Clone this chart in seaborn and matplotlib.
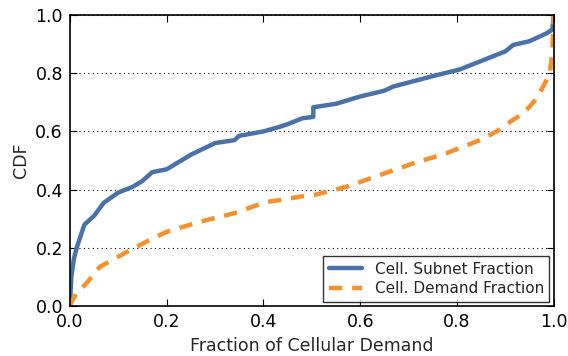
import matplotlib
matplotlib.use("Agg")
import matplotlib.pyplot as plt
import seaborn as sns
import pandas as pd

subnet_x = [0.0, 0.003, 0.008, 0.014, 0.03, 0.05, 0.07, 0.1, 0.13, 0.15, 0.17, 0.2, 0.25, 0.3, 0.34, 0.35, 0.4, 0.434, 0.45, 0.48, 0.503, 0.503, 0.55, 0.6, 0.65, 0.668, 0.75, 0.806, 0.847, 0.9, 0.916, 0.95, 0.985, 0.997, 1.0]
subnet_y = [0.0, 0.1, 0.16, 0.2, 0.28, 0.31, 0.355, 0.39, 0.41, 0.43, 0.46, 0.47, 0.52, 0.56, 0.57, 0.585, 0.6, 0.616, 0.625, 0.645, 0.65, 0.683, 0.695, 0.72, 0.74, 0.754, 0.79, 0.813, 0.84, 0.875, 0.897, 0.91, 0.937, 0.95, 1.0]
demand_x = [0.0, 0.005, 0.014, 0.034, 0.062, 0.1, 0.131, 0.172, 0.2, 0.269, 0.337, 0.406, 0.434, 0.475, 0.503, 0.572, 0.64, 0.709, 0.778, 0.847, 0.882, 0.916, 0.935, 0.95, 0.965, 0.978, 0.992, 0.997, 1.0]
demand_y = [0.0, 0.02, 0.044, 0.078, 0.135, 0.17, 0.198, 0.233, 0.255, 0.29, 0.318, 0.358, 0.364, 0.376, 0.381, 0.41, 0.45, 0.49, 0.525, 0.57, 0.6, 0.64, 0.66, 0.685, 0.715, 0.754, 0.8, 0.88, 1.0]

labels = ["Cell. Subnet Fraction", "Cell. Demand Fraction"]

sns.set_style("ticks")
plt.rcParams['font.family'] = ['DejaVu Sans']

fig, ax = plt.subplots(figsize=(5.68, 3.56), dpi=100)
fig.subplots_adjust(left=0.123, right=0.975, top=0.958, bottom=0.14)

df1 = pd.DataFrame({"x": subnet_x, "y": subnet_y})
df2 = pd.DataFrame({"x": demand_x, "y": demand_y})
sns.lineplot(data=df1, x="x", y="y", sort=False, estimator=None, ax=ax,
             color="#4a72a8", lw=3.2, label=labels[0])
sns.lineplot(data=df2, x="x", y="y", sort=False, estimator=None, ax=ax,
             color="#f5902f", lw=3.2, dashes=False, label=labels[1])
ax.lines[1].set_dashes([3, 2.2])

ax.set_xlim(0, 1)
ax.set_ylim(0, 1)
ax.set_xticks([0, 0.2, 0.4, 0.6, 0.8, 1.0])
ax.set_yticks([0, 0.2, 0.4, 0.6, 0.8, 1.0])
ax.set_xticklabels(["0.0", "0.2", "0.4", "0.6", "0.8", "1.0"])
ax.set_yticklabels(["0.0", "0.2", "0.4", "0.6", "0.8", "1.0"])
ax.tick_params(direction="in", top=True, right=True, length=5, width=0.8,
               labelsize=12.5, colors="black", pad=5)
for s in ax.spines.values():
    s.set_visible(True)
    s.set_color("black")
    s.set_linewidth(1.2)
ax.yaxis.grid(True, linestyle=(0, (1, 3)), color="black", lw=0.8)
ax.set_xlabel("Fraction of Cellular Demand", fontsize=12.5, labelpad=4)
ax.set_ylabel("CDF", fontsize=12.5, labelpad=4)

leg = ax.legend(loc="lower right", fontsize=11, frameon=True, fancybox=False,
                borderaxespad=0.3, handlelength=2.2, borderpad=0.35, labelspacing=0.3)
leg.get_frame().set_edgecolor("black")
leg.get_frame().set_linewidth(1.0)

fig.savefig("out.png", dpi=100)
